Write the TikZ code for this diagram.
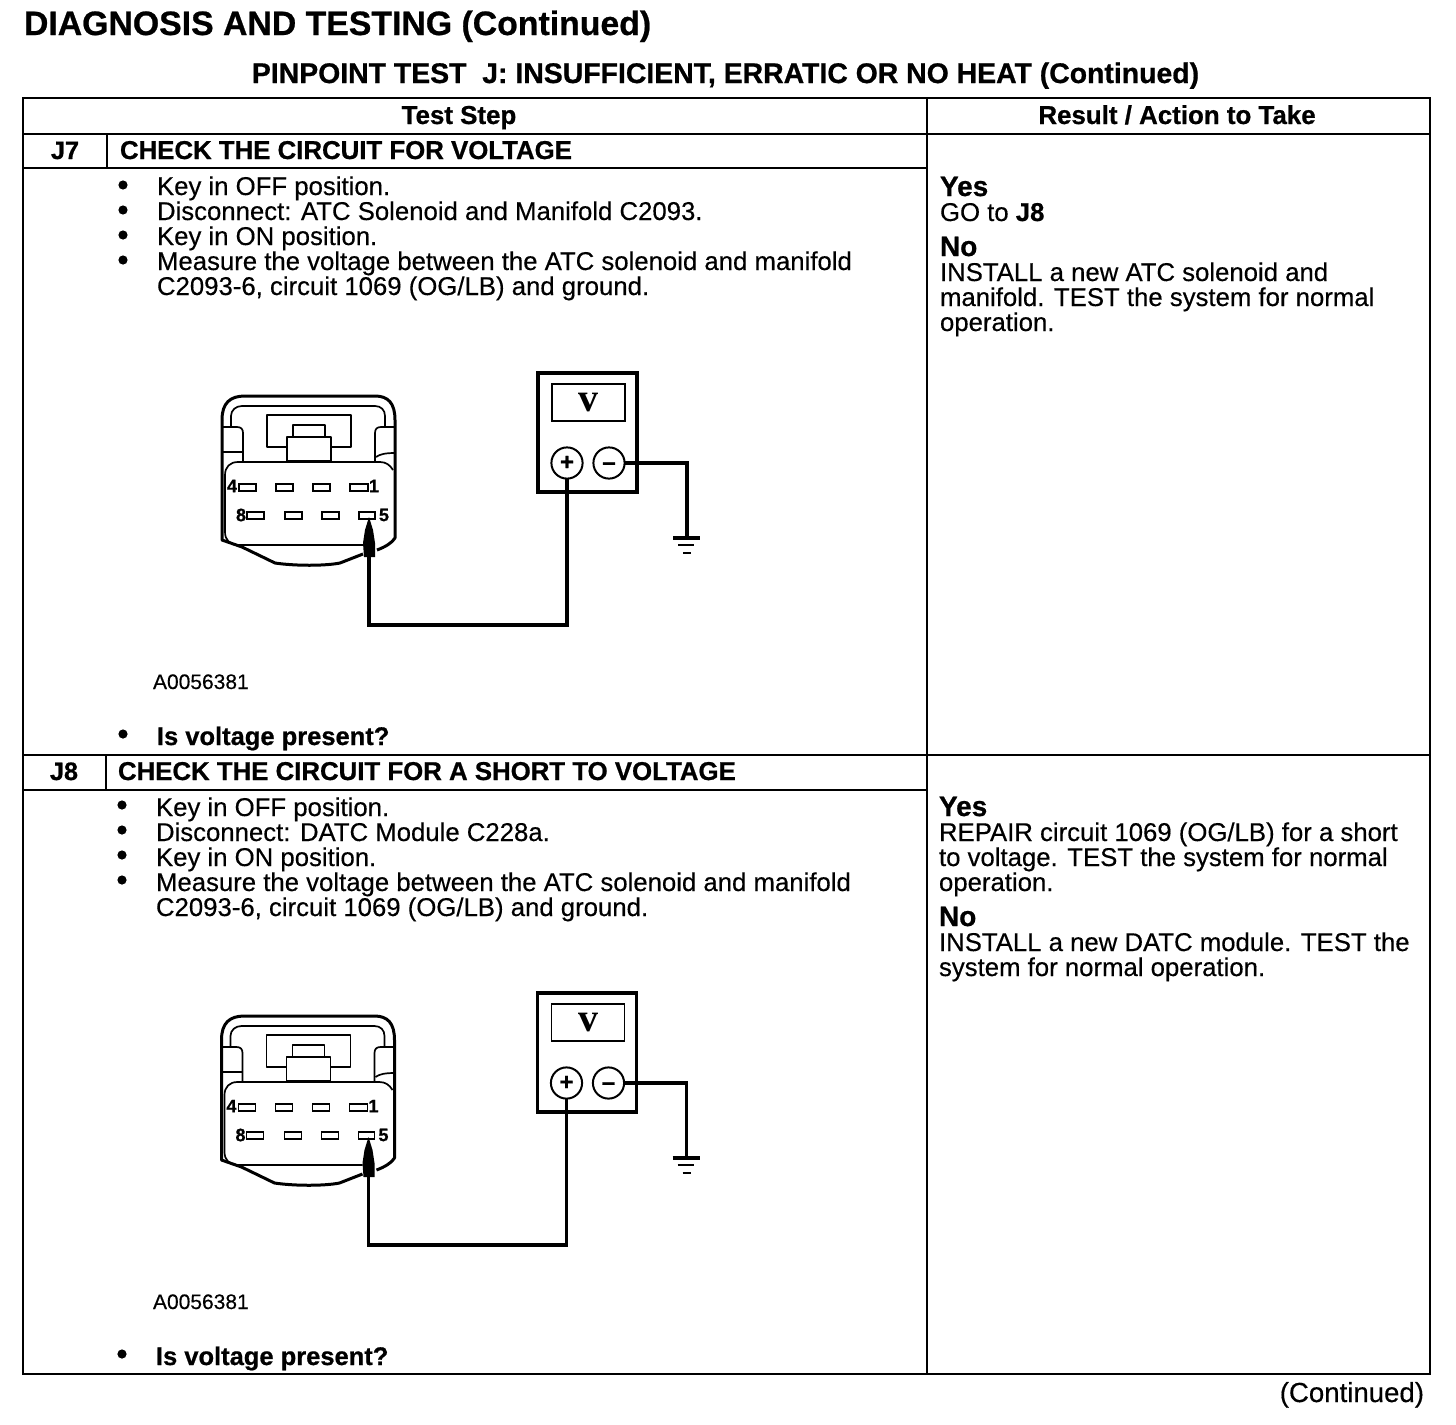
\documentclass[tikz,border=0pt]{standalone}
\usepackage{fontspec}
\usetikzlibrary{calc}
\setmainfont{Liberation Sans}
\newfontfamily\regf[FakeBold=0.35]{Liberation Sans}
\newfontfamily\hvyf[UprightFont={Liberation Sans Bold},UprightFeatures={FakeBold=0.7}]{Liberation Sans}
\begin{document}
\begin{tikzpicture}[x=0.5pt,y=-0.5pt,
  every node/.style={inner sep=0pt,outer sep=0pt,text=black},
  tablerule/.style={line width=1.25pt,line cap=rect},
  bodytxt/.style={anchor=base west,font=\regf\fontsize{12.87}{14}\selectfont},
  boldtxt/.style={anchor=base west,font=\hvyf\fontsize{12.9}{14}\selectfont},
  asktxt/.style={anchor=base west,font=\hvyf\fontsize{12.75}{14}\selectfont},
  bigtxt/.style={anchor=base west,font=\hvyf\fontsize{14}{16}\selectfont},
  headtxt/.style={anchor=base,font=\hvyf\fontsize{12.95}{14}\selectfont},
  idtxt/.style={anchor=base,font=\hvyf\fontsize{12.6}{14}\selectfont},
  refno/.style={anchor=base west,font=\regf\fontsize{10.5}{12}\selectfont},
  bulletdot/.style={circle,fill=black,minimum size=4.6pt},
  thinpart/.style={line width=0.85pt,line join=round},
  thickpart/.style={line width=1.5pt,line join=round},
  wireline/.style={line width=1.8pt,line join=miter},
  pinbox/.style={draw,line width=0.8pt},
  pinlabel/.style={font=\hvyf\fontsize{9}{10}\selectfont},
  termcircle/.style={draw,circle,line width=1pt,minimum size=15.6pt,font=\hvyf\fontsize{12}{12}\selectfont},
]
\useasboundingbox (0,0) rectangle (1456,1424);
\fill[white] (0,0) rectangle (1456,1424);

\newcommand\tester[3]{%
\begin{scope}[shift={(#2,#3)}]
  % connector housing
  \draw[thickpart] (22,60) .. controls (22,43) and (30,36) .. (45,36) -- (175,36)
     .. controls (188,36) and (195,43) .. (195,60) -- (195,178)
     .. controls (192,183) and (185,187) .. (177,190);
  \draw[thickpart] (22,60) -- (22,180) -- (42,187) -- (75,203)
     .. controls (95,206) and (125,206) .. (140,203) -- (163,194);
  \draw[thinpart] (31,66) -- (31,56) .. controls (31,50) and (36,46) .. (42,46) -- (175,46)
     .. controls (181,46) and (185,50) .. (185,56) -- (185,66);
  \draw[thinpart] (67,55) rectangle (151,87);
  \draw[thinpart,fill=white] (93,65) rectangle (125,77);
  \draw[thinpart,fill=white] (87,77) rectangle (131,101);
  \draw[thinpart] (23,67) -- (37,67) .. controls (41,67) and (43,69) .. (43,73) -- (43,101);
  \draw[thinpart] (23,92) -- (43,92);
  \draw[thinpart] (195,67) -- (181,67) .. controls (177,67) and (175,69) .. (175,73) -- (175,101);
  \draw[thinpart] (176,97) .. controls (180,94) and (186,93) .. (195,93);
  \draw[thinpart] (193,110) .. controls (190,105) and (186,102) .. (180,102) -- (38,102)
     .. controls (30,102) and (25,107) .. (25,115) -- (25,172)
     .. controls (25,180) and (30,185) .. (38,185) -- (163,185);
  % pin sockets
  \foreach \a/\b in {39/56,76/93,113/130,150/168}
    \draw[pinbox] (\a,124) rectangle (\b,131);
  \foreach \a/\b in {47/64,85/102,122/139,159/175}
    \draw[pinbox] (\a,152) rectangle (\b,159);
  \node[pinlabel] (#1pfour) at (32,126) {4};
  \node[pinlabel] (#1pone) at (174,126) {1};
  \node[pinlabel] (#1peight) at (41,155) {8};
  \node[pinlabel] (#1pfive) at (184,155) {5};
  % probe
  \fill (169,157) -- (173,170) -- (175,183) -- (175,197) -- (164,197) -- (163,183) -- (165,170) -- cycle;
  \coordinate (#1probe) at (169,197);
  % meter
  \node[draw,line width=1.9pt,minimum width=49.5pt,minimum height=59.5pt] (#1meter) at (387.5,72.5) {};
  \node[draw,line width=0.9pt,minimum width=36.5pt,minimum height=18.5pt,font=\fontspec{Liberation Serif}\bfseries\fontsize{20}{20}\selectfont] (#1display) at (388.5,42.5) {v};
  \node[termcircle] (#1plus) at (367,103) {+};
  \node[termcircle] (#1minus) at (409,103) {\vphantom{+}–};
  % wires
  \coordinate (#1gnd) at (487,178);
  \coordinate (#1low) at (366,265);
  \draw[wireline] (#1plus.south) -- (#1plus.south |- #1low) -- (#1probe |- #1low) -- (#1probe);
  \draw[wireline] (#1minus.east) -| (#1gnd);
  % ground symbol
  \draw[line width=1.6pt] ($(#1gnd)+(-14,0)$) -- ($(#1gnd)+(13,0)$);
  \draw[line width=1.1pt] ($(#1gnd)+(-9,7)$) -- ($(#1gnd)+(7,7)$);
  \draw[line width=1.1pt] ($(#1gnd)+(-4,15)$) -- ($(#1gnd)+(4,15)$);
\end{scope}}

% titles
\node[anchor=base west,font=\hvyf\fontsize{16.9}{18}\selectfont] (title) at (24,35) {DIAGNOSIS AND TESTING (Continued)};
\node[anchor=base,font=\hvyf\fontsize{14.2}{16}\selectfont] (sub) at (725.5,83) {PINPOINT TEST\ \ J: INSUFFICIENT, ERRATIC OR NO HEAT (Continued)};

% table rules
\draw[tablerule] (23,98) rectangle (1430,1374);
\draw[tablerule] (927,98) -- (927,1374);
\draw[tablerule] (23,134) -- (1430,134);
\draw[tablerule] (23,168) -- (927,168);
\draw[tablerule] (23,755) -- (1430,755);
\draw[tablerule] (23,790) -- (927,790);
\draw[tablerule] (107,134) -- (107,168);
\draw[tablerule] (106,755) -- (106,790);

% headers
\node[headtxt] (hstep) at (459,124) {Test Step};
\node[headtxt] (hres) at (1177,124) {Result / Action to Take};

% J7
\node[idtxt] (idA) at (65,159) {J7};
\node[boldtxt] (chkA) at (120,159) {CHECK THE CIRCUIT FOR VOLTAGE};
\foreach \n/\y in {1/185,2/210,3/235,4/260} \node[bulletdot] (ba\n) at (123,\y) {};
\node[bodytxt] (a1) at (157,195) {Key in OFF position.};
\node[bodytxt] (a2) at (157,220) {Disconnect: ATC Solenoid and Manifold C2093.};
\node[bodytxt] (a3) at (157,245) {Key in ON position.};
\node[bodytxt] (a4) at (157,270) {Measure the voltage between the ATC solenoid and manifold};
\node[bodytxt] (a5) at (157,295) {C2093-6, circuit 1069 (OG/LB) and ground.};
\tester{A}{200}{360}
\node[refno] (refA) at (153,689) {A0056381};
\node[bulletdot] (ba5) at (123,734) {};
\node[asktxt] (qA) at (157,745) {Is voltage present?};
\node[bigtxt] (yesA) at (940,196) {Yes};
\node[bodytxt] (goA) at (940,221) {GO to {\hvyf J8}};
\node[bigtxt] (noA) at (940,256) {No};
\node[bodytxt] (r1) at (940,281) {INSTALL a new ATC solenoid and};
\node[bodytxt] (r2) at (940,306) {manifold. TEST the system for normal};
\node[bodytxt] (r3) at (940,331) {operation.};

% J8
\node[idtxt] (idB) at (64,780) {J8};
\node[boldtxt] (chkB) at (118,780) {CHECK THE CIRCUIT FOR A SHORT TO VOLTAGE};
\foreach \n/\y in {1/805,2/830,3/855,4/880} \node[bulletdot] (bb\n) at (122,\y) {};
\node[bodytxt] (b1) at (156,816) {Key in OFF position.};
\node[bodytxt] (b2) at (156,841) {Disconnect: DATC Module C228a.};
\node[bodytxt] (b3) at (156,866) {Key in ON position.};
\node[bodytxt] (b4) at (156,891) {Measure the voltage between the ATC solenoid and manifold};
\node[bodytxt] (b5) at (156,916) {C2093-6, circuit 1069 (OG/LB) and ground.};
\tester{B}{199.5}{980}
\node[refno] (refB) at (153,1309) {A0056381};
\node[bulletdot] (bb5) at (122,1354) {};
\node[asktxt] (qB) at (156,1365) {Is voltage present?};
\node[bigtxt] (yesB) at (939,816) {Yes};
\node[bodytxt] (s1) at (939,841) {REPAIR circuit 1069 (OG/LB) for a short};
\node[bodytxt] (s2) at (939,866) {to voltage. TEST the system for normal};
\node[bodytxt] (s3) at (939,891) {operation.};
\node[bigtxt] (noB) at (939,926) {No};
\node[bodytxt] (s4) at (939,951) {INSTALL a new DATC module. TEST the};
\node[bodytxt] (s5) at (939,976) {system for normal operation.};

\node[anchor=base east,font=\regf\fontsize{13.8}{14}\selectfont] (cont) at (1424,1402) {(Continued)};
\end{tikzpicture}
\end{document}
